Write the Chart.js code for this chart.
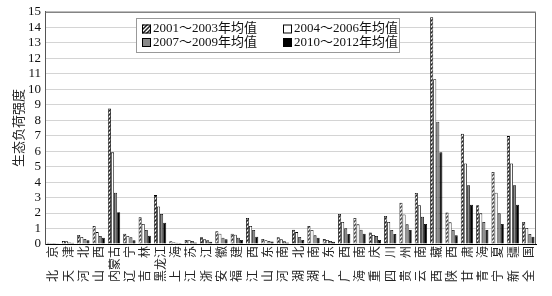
<!DOCTYPE html>
<html>
<head>
<meta charset="utf-8">
<script src="https://cdn.jsdelivr.net/npm/chart.js@4"></script>
<style>
    html, body { margin: 0; padding: 0; background: #fff; }
    #wrap { width: 552px; height: 296px; }
</style>
</head>
<body>
<div id="wrap"><canvas id="chartLoad"></canvas></div>
<script>
// ====== data ======
const provinces = ['北京', '天津', '河北', '山西', '内蒙古', '辽宁', '吉林', '黑龙江', '上海', '江苏', '浙江',
    '安徽', '福建', '江西', '山东', '河南', '湖北', '湖南', '广东', '广西', '海南', '重庆', '四川', '贵州',
    '云南', '西藏', '陕西', '甘肃', '青海', '宁夏', '新疆', '全国'];

const avg2001_2003 = [0.08, 0.2, 0.58, 1.16, 8.76, 0.67, 1.72, 3.16, 0.18, 0.26, 0.43,
    0.82, 0.66, 1.68, 0.32, 0.43, 0.92, 1.16, 0.32, 1.94, 1.68, 0.75, 1.81, 2.66,
    3.29, 14.65, 2.04, 7.12, 2.5, 4.65, 6.97, 1.42];
const avg2004_2006 = [0.07, 0.17, 0.45, 0.77, 5.92, 0.52, 1.29, 2.43, 0.12, 0.24, 0.3,
    0.66, 0.6, 1.16, 0.24, 0.3, 0.77, 0.9, 0.26, 1.42, 1.27, 0.58, 1.42, 1.91,
    2.5, 10.65, 1.4, 5.2, 1.98, 3.31, 5.2, 1.03];
const avg2007_2009 = [0.06, 0.1, 0.32, 0.52, 3.31, 0.43, 0.9, 1.94, 0.08, 0.2, 0.24,
    0.41, 0.41, 0.9, 0.2, 0.17, 0.45, 0.56, 0.2, 1.01, 0.92, 0.52, 0.9, 1.27,
    1.76, 7.9, 0.9, 3.8, 1.42, 1.98, 3.8, 0.65];
const avg2010_2012 = [0.05, 0.08, 0.24, 0.41, 2.05, 0.24, 0.54, 1.38, 0.06, 0.1, 0.15,
    0.3, 0.26, 0.47, 0.16, 0.1, 0.26, 0.41, 0.15, 0.65, 0.67, 0.26, 0.65, 0.9,
    1.29, 5.92, 0.56, 2.54, 0.9, 1.29, 2.54, 0.47];

const seriesLabels = ['2001～2003年均值', '2004～2006年均值', '2007～2009年均值', '2010～2012年均值'];
const yMin = 0, yMax = 15, yStep = 1;

// Helper: pola arsir diagonal
function makeHatch() {
    const c = document.createElement('canvas');
    c.width = 4; c.height = 4;
    const g = c.getContext('2d');
    g.fillStyle = '#fff';
    g.fillRect(0, 0, 4, 4);
    g.strokeStyle = '#222';
    g.lineWidth = 1.5;
    g.beginPath();
    g.moveTo(0, 4); g.lineTo(4, 0);
    g.moveTo(-1, 1); g.lineTo(1, -1);
    g.moveTo(3, 5); g.lineTo(5, 3);
    g.stroke();
    return g.createPattern(c, 'repeat');
}

const hatch = makeHatch();
const fills = [hatch, '#ffffff', '#8a8a8a', '#000000'];
const values = [avg2001_2003, avg2004_2006, avg2007_2009, avg2010_2012];

const serif = '"Liberation Serif", "Noto Sans CJK SC", serif';
const cjk = '"Noto Sans CJK SC", sans-serif';

// frame atas & kanan
const framePlugin = {
    id: 'frame',
    afterDraw(chart) {
        const { ctx, chartArea: a } = chart;
        ctx.save();
        ctx.strokeStyle = '#666';
        ctx.lineWidth = 1;
        ctx.beginPath();
        ctx.moveTo(a.left, a.top + 0.5);
        ctx.lineTo(a.right - 0.5, a.top + 0.5);
        ctx.lineTo(a.right - 0.5, a.bottom);
        ctx.stroke();
        ctx.restore();
    }
};

// legend 2x2 di dalam plot
const legendPlugin = {
    id: 'boxLegend',
    afterDraw(chart) {
        const ctx = chart.ctx;
        const box = { x: 136, y: 18, w: 263, h: 34 };
        ctx.save();
        ctx.fillStyle = '#fff';
        ctx.fillRect(box.x, box.y, box.w, box.h);
        ctx.strokeStyle = '#999';
        ctx.lineWidth = 1;
        ctx.strokeRect(box.x + 0.5, box.y + 0.5, box.w, box.h);

        const cols = [142, 283];
        const rows = [29, 42.5];
        ctx.font = '13px ' + serif;
        ctx.textBaseline = 'middle';
        chart.data.datasets.forEach((ds, i) => {
            const x = cols[i % 2];
            const y = rows[Math.floor(i / 2)];
            ctx.fillStyle = ds.backgroundColor;
            ctx.fillRect(x, y - 4.5, 9, 9);
            ctx.strokeStyle = '#000';
            ctx.strokeRect(x + 0.5, y - 4.5 + 0.5, 8, 8);
            ctx.fillStyle = '#111';
            ctx.fillText(ds.label, x + 11, y);
        });
        ctx.restore();
    }
};

new Chart(document.getElementById('chartLoad').getContext('2d'), {
    type: 'bar',
    data: {
        labels: provinces,
        datasets: values.map((v, i) => ({
            label: seriesLabels[i],
            data: v,
            backgroundColor: fills[i],
            borderColor: '#000',
            borderWidth: 0.8,
            categoryPercentage: 0.8,
            barPercentage: 1.0
        }))
    },
    options: {
        responsive: true,
        maintainAspectRatio: false,
        animation: false,
        layout: { padding: { top: 10, right: 16, left: 0, bottom: 0 } },
        plugins: {
            legend: { display: false },
            tooltip: { enabled: false }
        },
        scales: {
            x: {
                grid: { display: false, drawTicks: false },
                border: { color: '#000' },
                ticks: {
                    autoSkip: false,
                    minRotation: 90,
                    maxRotation: 90,
                    padding: 2,
                    color: '#222',
                    font: { family: cjk, size: 12 },
                    // nama dua huruf direnggangkan
                    callback: function (val) {
                        const name = this.getLabelForValue(val);
                        return name.length === 2 ? name[0] + '\u3000' + name[1] : name;
                    }
                },
                afterFit: (scale) => { scale.height = 52; }
            },
            y: {
                min: yMin,
                max: yMax,
                grid: { color: '#d4d4d4', drawTicks: false },
                border: { color: '#555' },
                ticks: {
                    stepSize: yStep,
                    autoSkip: false,
                    padding: 4,
                    color: '#111',
                    font: { family: serif, size: 13 }
                },
                title: {
                    display: true,
                    text: '生态负荷强度',
                    color: '#222',
                    font: { family: cjk, size: 13 },
                    padding: { top: 10, bottom: 0 }
                },
                afterFit: (scale) => { scale.width = 45; }
            }
        }
    },
    plugins: [framePlugin, legendPlugin]
});
</script>
</body>
</html>
